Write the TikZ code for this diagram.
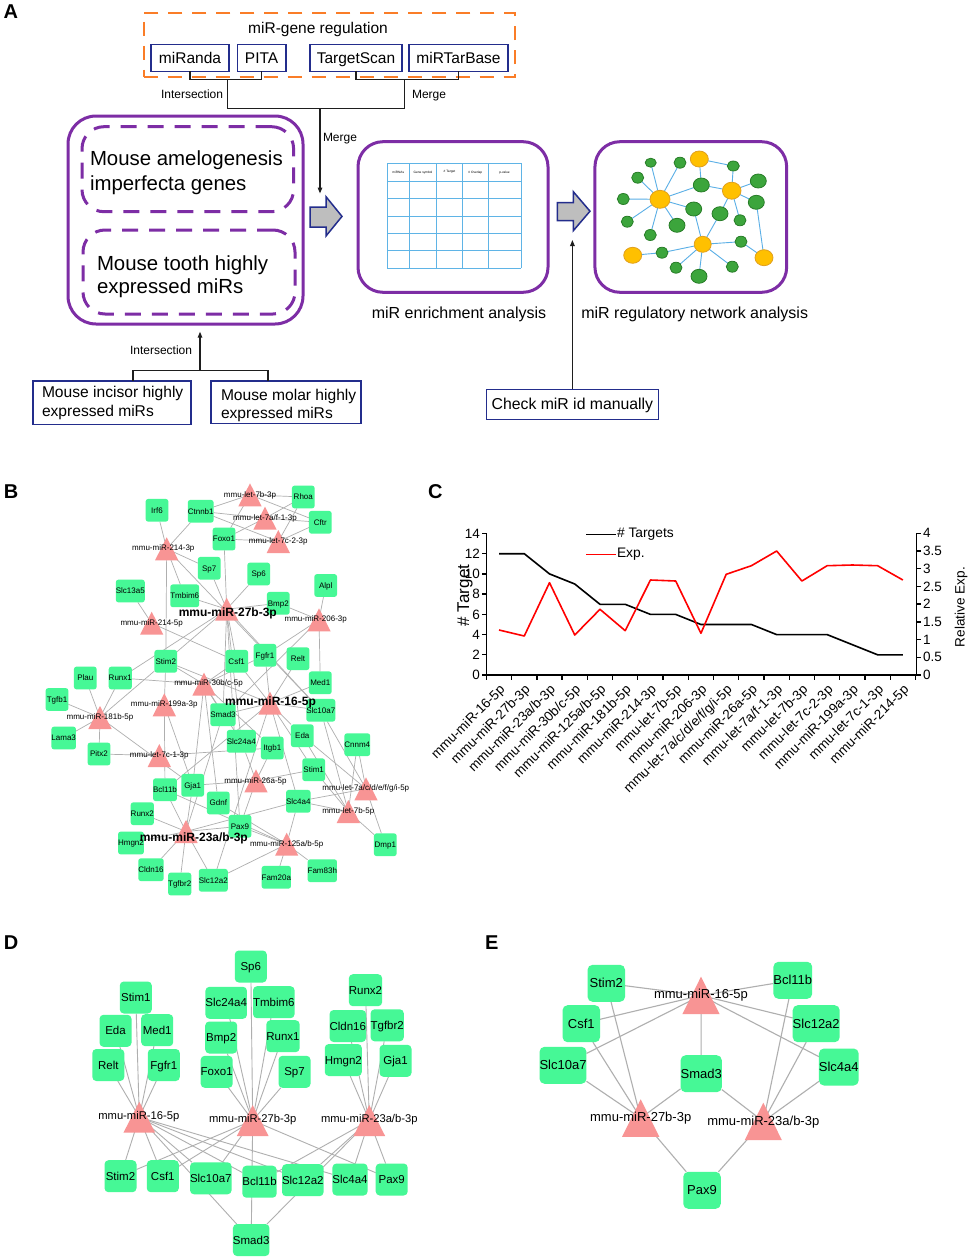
\documentclass[tikz,border=0pt]{standalone}
\usepackage{fontspec}
\setmainfont{Liberation Sans}
\usetikzlibrary{arrows.meta,shapes.geometric}
\pgfdeclarelayer{bg}
\pgfdeclarelayer{fg}
\pgfsetlayers{bg,main,fg}
\definecolor{orng}{RGB}{250,125,40}
\definecolor{navy}{RGB}{35,45,140}
\definecolor{purp}{RGB}{125,45,165}
\definecolor{garr}{RGB}{190,190,190}
\definecolor{tblue}{RGB}{95,180,230}
\definecolor{nyel}{RGB}{255,192,0}
\definecolor{nyelb}{RGB}{225,160,30}
\definecolor{ngrn}{RGB}{60,165,60}
\definecolor{ngrnb}{RGB}{40,125,40}
\definecolor{nedge}{RGB}{90,175,230}
\definecolor{gbx}{RGB}{70,248,150}
\definecolor{trc}{RGB}{248,148,148}
\definecolor{gedge}{RGB}{175,175,175}
\definecolor{dk}{RGB}{30,30,30}
\definecolor{rline}{RGB}{255,0,0}
\newcommand\fsz[1]{\fontsize{#1}{#1}\selectfont}
% name, x, apex y, width, height, label x, label y, label, font
\newcommand\mtri[9]{%
  \fill[trc] ({#2-#4/2},{#3+#5}) -- (#2,#3) -- ({#2+#4/2},{#3+#5}) -- cycle;
  \coordinate (#1) at (#2,{#3+#5/2});
  \begin{pgfonlayer}{fg}\node[font=#9] (#1-l) at (#6,#7) {#8};\end{pgfonlayer}}
\begin{document}
\begin{tikzpicture}[x=1pt,y=-1pt,
  every node/.style={inner sep=0,outer sep=0},
  brk/.style={draw=dk, line width=1.3},
  tip/.style={-{Triangle[length=6pt,width=4.5pt]}},
  srcbox/.style={draw=navy, line width=1.6, font=\fsz{15.5}, text height=11.1, text depth=0},
  pbox/.style={draw=purp, line width=3},
  pdash/.style={draw=purp, line width=3, dash pattern=on 16pt off 11pt, rounded corners=22},
  garrow/.style={fill=garr, draw=navy, line width=1.5, line join=miter},
  plet/.style={font=\fsz{20}\bfseries, anchor=base west},
  nY/.style={ellipse, fill=nyel, draw=nyelb, line width=0.8},
  nG/.style={ellipse, fill=ngrn, draw=ngrnb, line width=0.8},
  gb/.style={fill=gbx, rounded corners=2.5, minimum width=22.7, minimum height=22.7, font=\fsz{8}, text height=5.7, text depth=0},
  gd/.style={fill=gbx, rounded corners=4, minimum width=32, minimum height=32, font=\fsz{11.5}, text height=8.2, text depth=0},
  ge/.style={fill=gbx, rounded corners=5, minimum width=37.5, minimum height=37, font=\fsz{13}, text height=9.3, text depth=0},
  ax/.style={line width=1.3},
  tk/.style={font=\fsz{13.5}}
]
\begin{pgfonlayer}{bg}
\fill[white] (0,0) rectangle (969,1258);
\end{pgfonlayer}
\useasboundingbox (0,0) rectangle (969,1258);

%================ PANEL A =================
\node[plet] (lA) at (3.5,18.5) {A};
\node[draw=orng, line width=2, dash pattern=on 14pt off 10pt, minimum width=371.4, minimum height=64] (grp) at (329.3,44.7) {};
\node[font=\fsz{15.5}, anchor=base] (grpt) at (318,33.3) {miR-gene regulation};
\node[srcbox, minimum width=78, minimum height=27] (miranda) at (190,57.8) {miRanda};
\node[srcbox, minimum width=48.2, minimum height=27] (pita) at (261.6,57.8) {PITA};
\node[srcbox, minimum width=92, minimum height=27] (targetscan) at (356,57.8) {TargetScan};
\node[srcbox, minimum width=99, minimum height=27] (mirtarbase) at (458.5,57.8) {miRTarBase};
\coordinate (j1) at (227.5,79.3);
\coordinate (j2) at (404.6,79.3);
\coordinate (j3) at (320,108.3);
\coordinate (ga1top) at (320,193.5);
\draw[brk] (miranda.south) |- (j1) -| (pita.south);
\draw[brk] (targetscan.south) |- (j2) -| (mirtarbase.south);
\draw[brk] (j1) |- (j3) -| (j2);
\draw[brk,tip] (j3) -- (ga1top);
\node[font=\fsz{12}, anchor=base west] (int1) at (161,98.3) {Intersection};
\node[font=\fsz{12}, anchor=base west] (mer1) at (412,98.3) {Merge};
\node[font=\fsz{12}, anchor=base west] (mer2) at (323,141.7) {Merge};

\node[pbox, rounded corners=28, minimum width=235, minimum height=208] (amel) at (185.5,220) {};
\node[pdash, minimum width=211.6, minimum height=85] (aig) at (187.8,169.2) {};
\node[pdash, minimum width=212, minimum height=84] (tooth) at (189,272) {};
\node[font=\fsz{20.4}, anchor=base west] (t1) at (90,165) {Mouse amelogenesis};
\node[font=\fsz{20.4}, anchor=base west] (t2) at (90,190) {imperfecta genes};
\node[font=\fsz{20.4}, anchor=base west] (t3) at (97,270) {Mouse tooth highly};
\node[font=\fsz{20.4}, anchor=base west] (t4) at (97,293) {expressed miRs};

\draw[garrow] (310,207) -- (326,207) -- (326,196.7) -- (342,216.4) -- (326,236) -- (326,227) -- (310,227) -- cycle;
\draw[garrow] (557.3,202.7) -- (573.3,202.7) -- (573.3,191.7) -- (590,211.2) -- (573.3,230.7) -- (573.3,220.7) -- (557.3,220.7) -- cycle;

\node[pbox, rounded corners=25, minimum width=190, minimum height=150.6] (enr) at (453,217) {};
\node[pbox, rounded corners=25, minimum width=191.7, minimum height=150.6] (net) at (690.8,217) {};
\foreach \yy in {163.3,181,198.7,216,233.3,250.7,268.3} \draw[tblue, line width=1] (387,\yy) -- (521,\yy);
\foreach \xx in {387,409.6,436.4,462.5,488,521} \draw[tblue, line width=1] (\xx,163.3) -- (\xx,268.3);
\foreach \xx/\lab [count=\k] in {398.3/miRNAs, 423/Gene symbol, 449.5/\# Target, 475.3/\# Overlap, 504.5/p-value}
  \node[font=\fsz{3.2}] (th\k) at (\xx,172.2) {\lab};
\node[font=\fsz{16}, anchor=base] (capenr) at (459,318.3) {miR enrichment analysis};
\node[font=\fsz{16}, anchor=base] (capnet) at (694.7,318.3) {miR regulatory network analysis};

% network picture
\foreach \n/\xx/\yy/\w/\h in {y1/699.3/159/18/16, y2/731.7/190.7/18.6/17, y3/660/199.3/20/18, y4/702.7/244.3/17/16, y5/632.7/255.3/18/16, y6/764/257.7/18/16}
  \node[nY, minimum width=\w, minimum height=\h] (\n) at (\xx,\yy) {};
\foreach \n/\xx/\yy/\w/\h in {g1/650.7/162.7/11/9, g2/680/162.7/12/11, g3/733.3/166/12/10, g4/637.7/177.7/12/11, g5/701.3/185/16/14, g6/758.3/181/16/14, g7/623.3/199/12/11, g8/756.3/202.3/16/14, g9/693.7/209/16/14, g10/720/213.7/16/14, g11/627.3/221.7/12/11, g12/740/220.3/12/11, g13/677/225.3/16/14, g14/650.3/235/12/11, g15/741/241.7/12/11, g16/662/252.7/12/11, g17/676/267.7/12/11, g18/699/276.3/16/14, g19/732.3/266.7/12/11}
  \node[nG, minimum width=\w, minimum height=\h] (\n) at (\xx,\yy) {};
\begin{pgfonlayer}{bg}
\foreach \a/\b in {y3/g1,y3/g2,y3/g4,y3/g7,y3/g11,y3/g14,y3/g13,y3/g9,y3/g5,y1/g5,y1/g3,g3/y2,g5/y2,y2/g6,y2/g8,y2/g12,y2/g10,g9/y4,g10/y4,y4/g16,y4/g17,y4/g18,y4/g19,y4/g15,g16/y5,g15/y6,g8/y6}
  \draw[nedge, line width=0.9] (\a) -- (\b);
\end{pgfonlayer}

\node[srcbox, minimum width=158, minimum height=43.3] (incisor) at (112,402.7) {};
\node[srcbox, minimum width=150, minimum height=42.3] (molar) at (286,402.2) {};
\node[font=\fsz{15.6}, anchor=base west] (t5) at (42,397.7) {Mouse incisor highly};
\node[font=\fsz{15.6}, anchor=base west] (t6) at (42,416.7) {expressed miRs};
\node[font=\fsz{15.6}, anchor=base west] (t7) at (221,400) {Mouse molar highly};
\node[font=\fsz{15.6}, anchor=base west] (t8) at (221,418) {expressed miRs};
\coordinate (jL) at (133,370.7);
\coordinate (jR) at (268,370.7);
\coordinate (jM) at (200,370.7);
\coordinate (tA) at (200,331.7);
\draw[brk] (incisor.north -| jL) -- (jL) -- (jR) -- (molar.north -| jR);
\draw[brk,tip] (jM) -- (tA);
\node[font=\fsz{12}, anchor=base west] (int2) at (130,354) {Intersection};
\node[srcbox, minimum width=172, minimum height=30, font=\fsz{15.8}, text height=11.3] (check) at (572.4,404.3) {Check miR id manually};
\coordinate (tC) at (572.4,240);
\draw[brk,tip] (check.north) -- (tC);

%================ PANEL B =================
\node[plet] (lB) at (4,498.5) {B};
\mtri{b7b3}{250}{483.3}{23.3}{23}{250}{495}{mmu-let-7b-3p}{\fsz{8}}
\mtri{b7af}{265}{506.7}{23.3}{23}{265}{518.3}{mmu-let-7a/f-1-3p}{\fsz{8}}
\mtri{b7c2}{278.3}{530}{23.3}{23}{278.3}{541.7}{mmu-let-7c-2-3p}{\fsz{8}}
\mtri{b2143}{166.7}{537.3}{23.3}{23}{163.3}{548.3}{mmu-miR-214-3p}{\fsz{8}}
\mtri{b27}{226.7}{597.7}{23.3}{23}{227.8}{613.3}{mmu-miR-27b-3p}{\fsz{12}\bfseries}
\mtri{b206}{319}{608.3}{23.3}{23}{315.7}{619.3}{mmu-miR-206-3p}{\fsz{8}}
\mtri{b2145}{151.7}{611.7}{23.3}{23}{151.7}{623}{mmu-miR-214-5p}{\fsz{8}}
\mtri{b30}{204}{672.7}{23.3}{23}{208.5}{683.8}{mmu-miR-30b/c-5p}{\fsz{8}}
\mtri{b16}{270}{691.7}{23.3}{23}{270.5}{702.7}{mmu-miR-16-5p}{\fsz{12}\bfseries}
\mtri{b199}{164.3}{693.3}{23.3}{23}{164.3}{704.7}{mmu-miR-199a-3p}{\fsz{8}}
\mtri{b181}{100}{706}{23.3}{23}{100}{717.2}{mmu-miR-181b-5p}{\fsz{8}}
\mtri{b7c1}{159.3}{744}{23.3}{23}{159.3}{755.3}{mmu-let-7c-1-3p}{\fsz{8}}
\mtri{b7all}{366}{777.3}{23.3}{23}{365.8}{788.7}{mmu-let-7a/c/d/e/f/g/i-5p}{\fsz{8}}
\mtri{b26}{256}{769.3}{23.3}{23}{255.5}{781}{mmu-miR-26a-5p}{\fsz{8}}
\mtri{b7b5}{348.3}{800}{23.3}{23}{348.3}{811.2}{mmu-let-7b-5p}{\fsz{8}}
\mtri{b23}{186}{820}{23.3}{23}{193.8}{838.3}{mmu-miR-23a/b-3p}{\fsz{12}\bfseries}
\mtri{b125}{286.7}{832.7}{23.3}{23}{286.7}{844.2}{mmu-miR-125a/b-5p}{\fsz{8}}
\foreach \n/\xx/\yy in {Irf6/157/510.3, Ctnnb1/200.7/511.3, Foxo1/224/539, Rhoa/303.3/497, Cftr/320.3/522.3, Sp7/209.2/568.3, Sp6/258.7/574, Slc13a5/130.3/591, Tmbim6/184.7/595.8, Bmp2/278.3/603.3, Alpl/325.7/585.5, Stim2/165.8/661.3, Csf1/236.7/661.3, Fgfr1/265/655.3, Plau/85.3/678, Runx1/120.3/678, Relt/298/658.7, Med1/320.3/682.8, Slc10a7/320.8/710.3, Tgfb1/57/699.5, Lama3/63.7/738, Smad3/223/714.7, Slc24a4/241.3/741.3, Itgb1/272.3/748, Eda/302.3/735.7, Cnnm4/357.3/744.7, Pitx2/99/754, Stim1/313.7/769.7, Bcl11b/165/789.7, Gja1/192.7/785.3, Gdnf/218.3/803, Slc4a4/298.3/801.3, Runx2/142.3/813.7, Pax9/240/826.3, Hmgn2/131/843, Dmp1/385.3/844.7, Cldn16/151/869.7, Fam20a/276.3/877.3, Fam83h/322.3/870.7, Tgfbr2/179.7/884, Slc12a2/213.3/880.3}
  \node[gb] (\n) at (\xx,\yy) {\n};
\begin{pgfonlayer}{bg}
\foreach \m/\gl in {b16/{Stim1,Eda,Med1,Relt,Fgfr1,Stim2,Csf1,Slc10a7,Bcl11b,Slc12a2,Slc4a4,Smad3},
  b27/{Sp6,Slc24a4,Tmbim6,Bmp2,Runx1,Foxo1,Sp7,Stim2,Csf1,Slc10a7,Smad3,Pax9},
  b23/{Runx2,Cldn16,Tgfbr2,Hmgn2,Gja1,Bcl11b,Slc12a2,Slc4a4,Pax9,Smad3},
  b30/{Runx1,Stim2,Csf1,Fgfr1,Smad3,Slc24a4,Gja1,Gdnf,Itgb1},
  b125/{Fam20a,Fam83h,Slc4a4,Pax9,Gdnf,Slc12a2,Bcl11b},
  b181/{Tgfb1,Plau,Runx1,Lama3,Pitx2,Stim2,Gja1},
  b2143/{Irf6,Ctnnb1,Sp7,Stim2,Tmbim6,Slc10a7},
  b7b5/{Cnnm4,Dmp1,Slc10a7,Eda,Stim1,Slc4a4},
  b206/{Alpl,Med1,Bmp2,Fgfr1,Smad3},
  b7all/{Cnnm4,Dmp1,Eda,Slc10a7,Slc4a4},
  b26/{Itgb1,Slc24a4,Stim1,Gja1,Pax9},
  b7af/{Ctnnb1,Rhoa,Cftr,Foxo1},
  b7b3/{Ctnnb1,Rhoa,Cftr,Foxo1},
  b7c2/{Ctnnb1,Rhoa,Cftr,Foxo1},
  b199/{Stim2,Gja1,Bcl11b},
  b7c1/{Pitx2,Itgb1},
  b2145/{Slc13a5,Csf1}}
  \foreach \g in \gl \draw[gedge, line width=0.7] (\m) -- (\g);
\end{pgfonlayer}

%================ PANEL C =================
\node[plet] (lC) at (428,498.5) {C};
\draw[ax] (486.4,533.3) -- (486.4,675) -- (916.4,675) -- (916.4,533.3);
\foreach \v/\yy [count=\k] in {0/675,2/654.8,4/634.6,6/614.4,8/594.1,10/573.9,12/553.7,14/533.5} {
  \draw[ax] (482,\yy) -- (486.4,\yy);
  \node[tk, anchor=east] (yl\k) at (480,\yy) {\v};
}
\foreach \v/\yy [count=\k] in {0/675,0.5/657.3,1/639.6,1.5/621.9,2/604.1,2.5/586.4,3/568.7,3.5/551,4/533.3} {
  \draw[ax] (916.4,\yy) -- (920.8,\yy);
  \node[tk, anchor=west] (yr\k) at (923,\yy) {\v};
}
\foreach \k in {0,...,17} \draw[ax] ({486.4+25.24*\k},675) -- ++(0,4.5);
\draw[line width=1.6, line join=round] (499.02,553.7) -- (524.26,553.7) -- (549.5,573.9) -- (574.74,584.0) -- (599.98,604.3) -- (625.22,604.3) -- (650.46,614.4) -- (675.7,614.4) -- (700.94,624.5) -- (726.18,624.5) -- (751.42,624.5) -- (776.66,634.6) -- (801.9,634.6) -- (827.14,634.6) -- (852.38,644.7) -- (877.62,654.8) -- (902.86,654.8);
\draw[rline, line width=1.6, line join=round] (499.02,630) -- (524.26,636) -- (549.5,582.7) -- (574.74,635) -- (599.98,609.3) -- (625.22,630.7) -- (650.46,580) -- (675.7,581) -- (700.94,633.3) -- (726.18,574.3) -- (751.42,565.7) -- (776.66,551) -- (801.9,581) -- (827.14,565.7) -- (852.38,565) -- (877.62,565.7) -- (902.86,580);
\draw[line width=1.6] (586.4,534.3) -- (615.6,534.3);
\draw[rline, line width=1.6] (586.4,554.3) -- (615.6,554.3);
\node[font=\fsz{13.8}, anchor=west] (lg1) at (617,534.3) {\# Targets};
\node[font=\fsz{13.8}, anchor=west] (lg2) at (617,554.3) {Exp.};
\node[font=\fsz{17}, rotate=90] (ylab) at (465,595.5) {\# Target};
\node[font=\fsz{13.6}, rotate=90] (ylab2) at (961,607) {Relative Exp.};
\foreach \lab [count=\i from 0] in {mmu-miR-16-5p, mmu-miR-27b-3p, mmu-miR-23a/b-3p, mmu-miR-30b/c-5p, mmu-miR-125a/b-5p, mmu-miR-181b-5p, mmu-miR-214-3p, mmu-let-7b-5p, mmu-miR-206-3p, mmu-let-7a/c/d/e/f/g/i-5p, mmu-miR-26a-5p, mmu-let-7a/f-1-3p, mmu-let-7b-3p, mmu-let-7c-2-3p, mmu-miR-199a-3p, mmu-let-7c-1-3p, mmu-miR-214-5p}
  \node[tk, rotate=45, anchor=east] (xl\i) at ({486.4+25.24*(\i+0.5)+4},688) {\lab};

%================ PANEL D =================
\node[plet] (lD) at (4,949.5) {D};
\mtri{d16}{139.3}{1101.7}{31.7}{31}{138.8}{1116.7}{mmu-miR-16-5p}{\fsz{11.2}}
\mtri{d27}{252.7}{1105}{31.7}{31}{252.7}{1120}{mmu-miR-27b-3p}{\fsz{11.2}}
\mtri{d23}{369.3}{1105}{31.7}{31}{369.3}{1119.3}{mmu-miR-23a/b-3p}{\fsz{11.2}}
\foreach \n/\xx/\yy in {Stim1/135.8/997.5, Eda/115.5/1030.8, Med1/157.2/1030.2, Relt/108.3/1065, Fgfr1/163.8/1065, Sp6/250.8/966.5, Slc24a4/226.2/1002.8, Tmbim6/273.8/1002.2, Bmp2/221.2/1037.5, Runx1/283/1036.2, Foxo1/216.7/1071.8, Sp7/294.5/1071.8, Runx2/365.5/990.2, Cldn16/347.8/1026, Tgfbr2/387.2/1025.3, Hmgn2/343.3/1060, Gja1/395.5/1060.8, Stim2/120.5/1176.2, Csf1/162.8/1176.2, Slc10a7/210.8/1178.3, Bcl11b/259.5/1181.7, Slc12a2/302.8/1180.2, Slc4a4/350/1179.5, Pax9/391.7/1179.5, Smad3/251.2/1240}
  \node[gd] (D\n) at (\xx,\yy) {\n};
\begin{pgfonlayer}{bg}
\foreach \m/\gl in {d16/{Stim1,Eda,Med1,Relt,Fgfr1,Stim2,Csf1,Slc10a7,Bcl11b,Slc12a2,Slc4a4,Smad3},
  d27/{Sp6,Slc24a4,Tmbim6,Bmp2,Runx1,Foxo1,Sp7,Stim2,Csf1,Slc10a7,Smad3,Pax9},
  d23/{Runx2,Cldn16,Tgfbr2,Hmgn2,Gja1,Bcl11b,Slc12a2,Slc4a4,Pax9,Smad3}}
  \foreach \g in \gl \draw[gedge, line width=0.9] (\m) -- (D\g);
\end{pgfonlayer}

%================ PANEL E =================
\node[plet] (lE) at (485,949.3) {E};
\mtri{e16}{701}{976.7}{37.3}{37.5}{701}{995}{mmu-miR-16-5p}{\fsz{13}}
\mtri{e27}{640.7}{1099.3}{37.3}{37.5}{640.7}{1118.3}{mmu-miR-27b-3p}{\fsz{13}}
\mtri{e23}{763.3}{1102.7}{37.3}{37.5}{763.3}{1121.7}{mmu-miR-23a/b-3p}{\fsz{13}}
\foreach \n/\xx/\yy in {Stim2/606.3/983.3, Bcl11b/792.8/980.3, Csf1/581.3/1023.7, Slc12a2/816.2/1023.7, Slc10a7/563/1065.3, Smad3/701.2/1073.7, Slc4a4/838.8/1067, Pax9/702/1190.3}
  \node[ge] (E\n) at (\xx,\yy) {\n};
\begin{pgfonlayer}{bg}
\foreach \m/\gl in {e16/{Stim2,Bcl11b,Csf1,Slc12a2,Slc10a7,Slc4a4,Smad3},
  e27/{Stim2,Csf1,Slc10a7,Smad3,Pax9},
  e23/{Bcl11b,Slc12a2,Slc4a4,Smad3,Pax9}}
  \foreach \g in \gl \draw[gedge, line width=1.1] (\m) -- (E\g);
\end{pgfonlayer}
\end{tikzpicture}
\end{document}
